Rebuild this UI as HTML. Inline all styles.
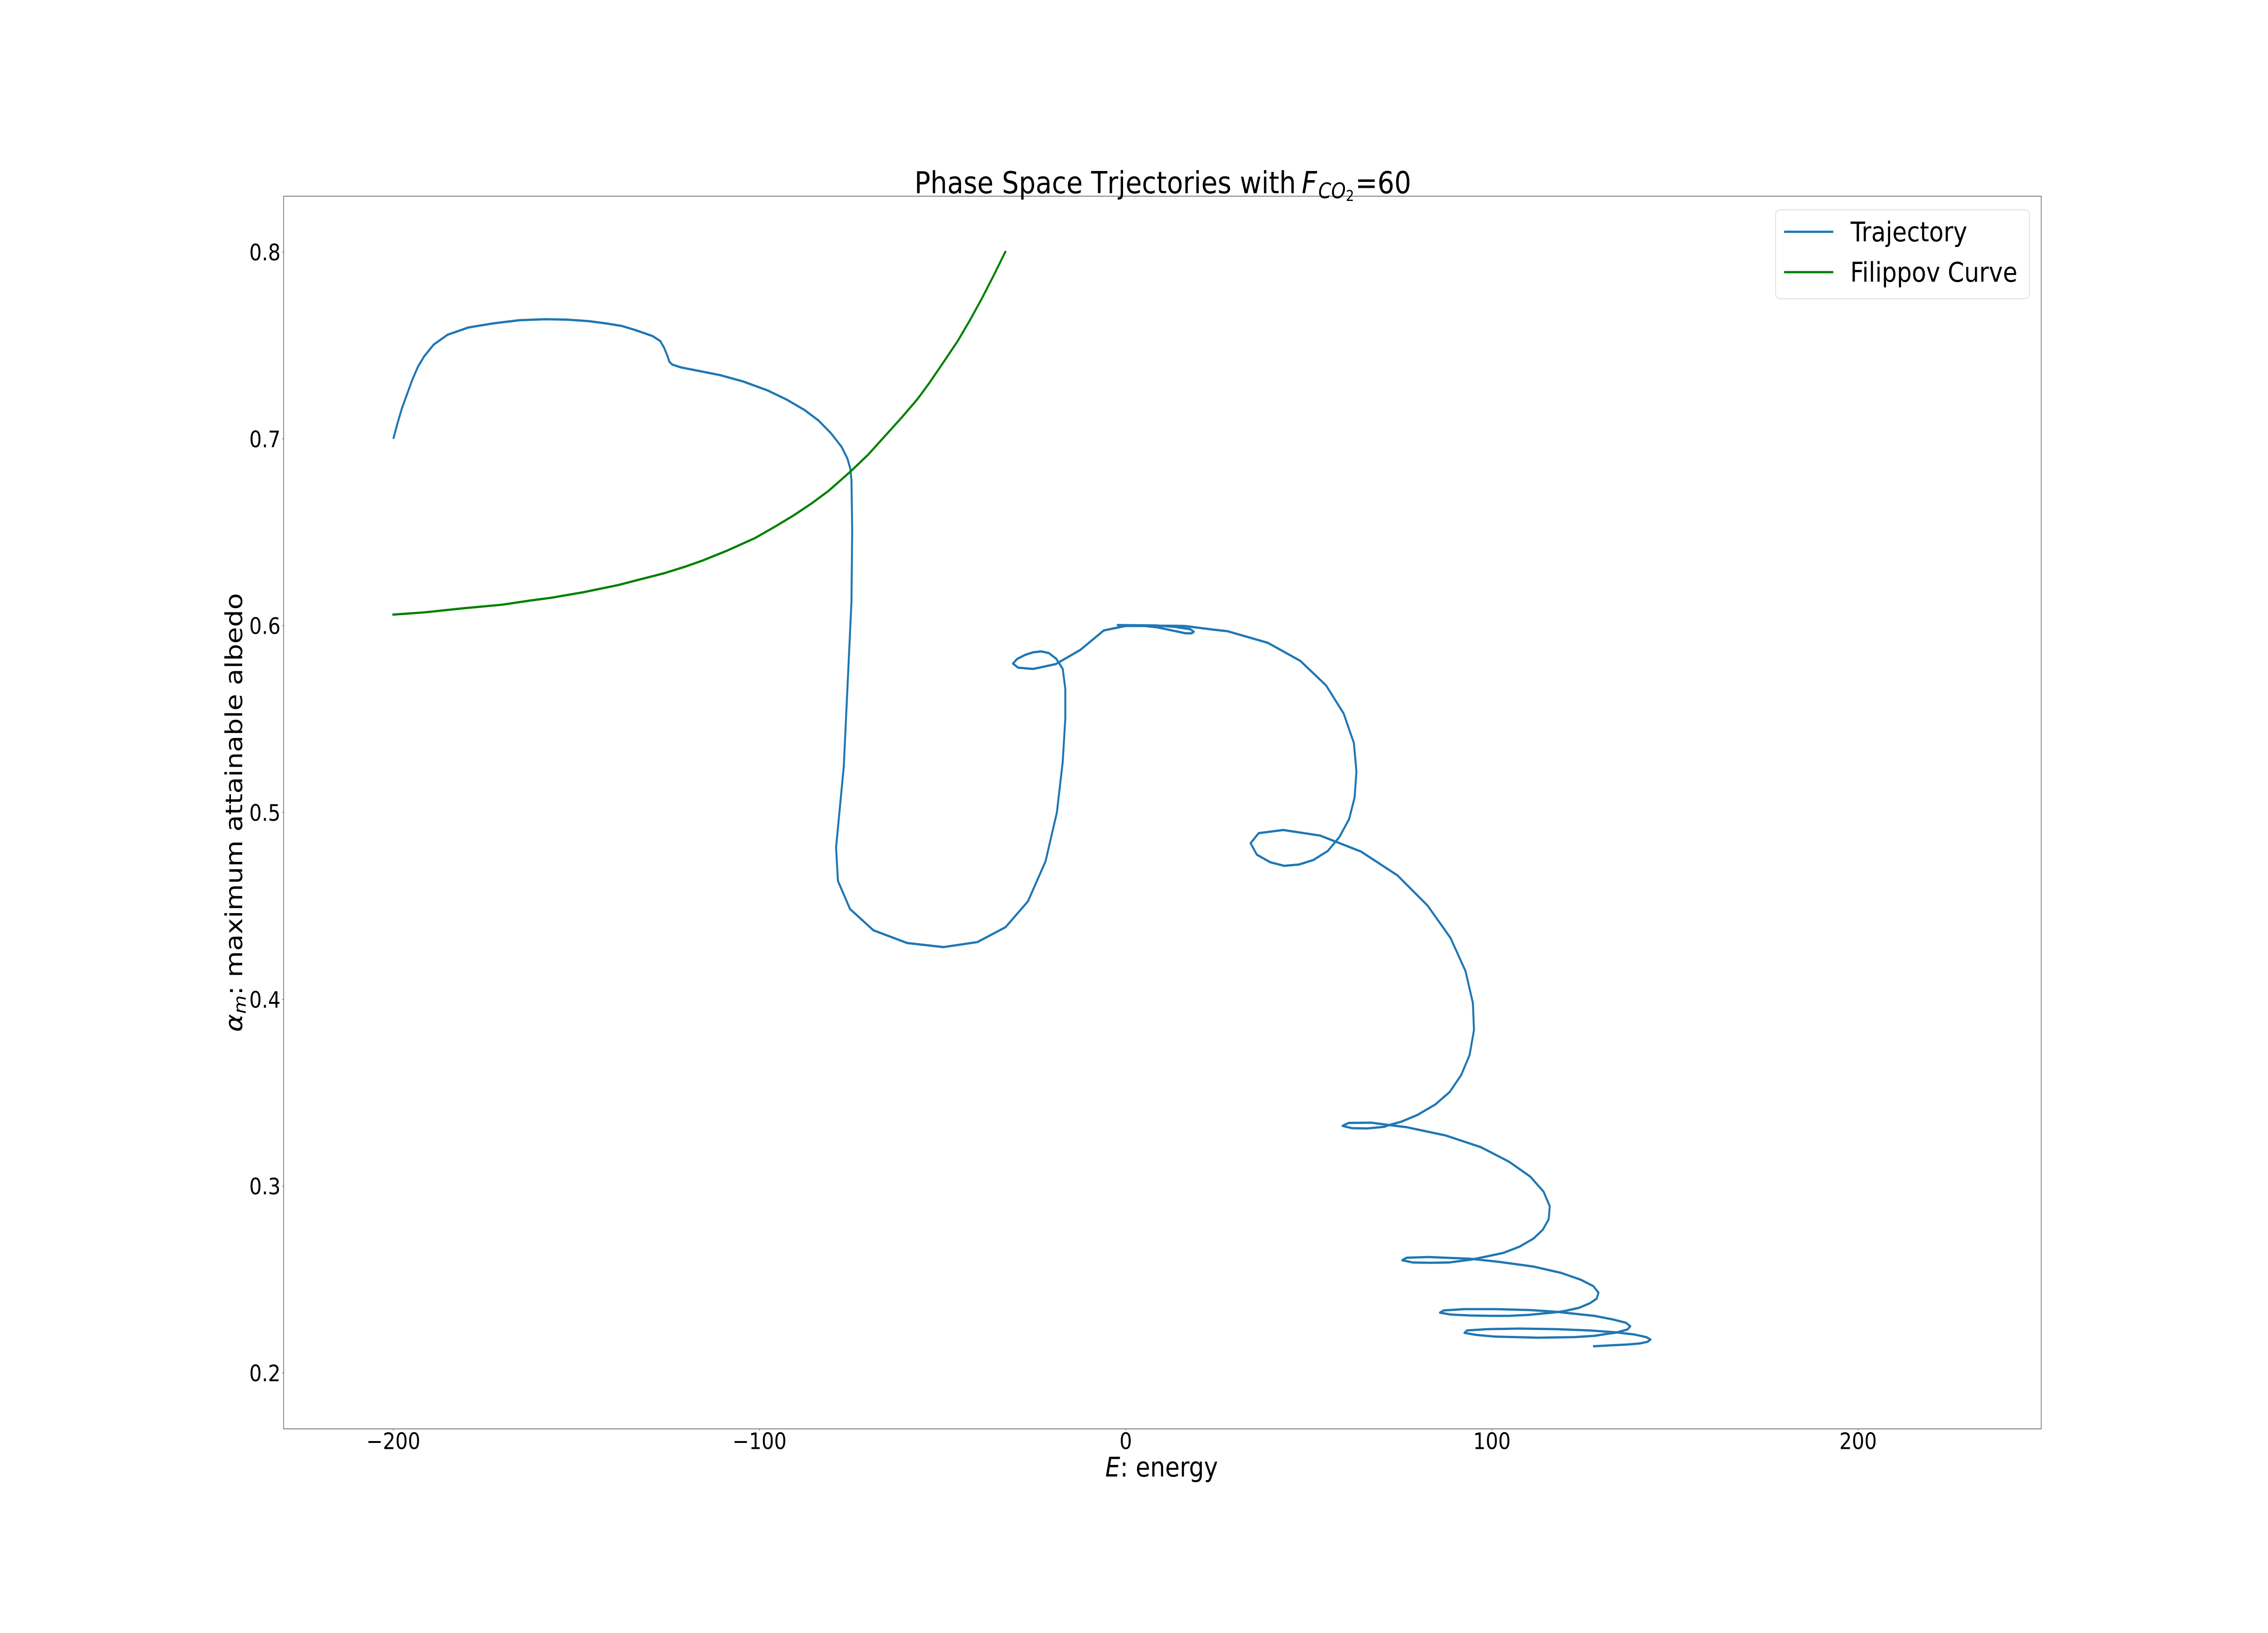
<!DOCTYPE html>
<html lang="en">
<head>
<meta charset="utf-8">
<title>Phase Space Trajectories</title>
<style>
html,body{margin:0;padding:0;background:#fff;width:100%;height:100%;overflow:hidden}
svg{display:block;width:100vw;height:100vh}
text{font-family:"DejaVu Sans","Liberation Sans",sans-serif;fill:#000}
.it{font-style:italic}
.nk{font-kerning:none}
</style>
</head>
<body>
<svg id="chart" xmlns="http://www.w3.org/2000/svg" viewBox="0 0 5760 3600" preserveAspectRatio="none">
  <rect x="0" y="0" width="5760" height="3600" fill="#fff"/>
  <g id="marks"></g>
  <rect x="720.5" y="432.5" width="4463.5" height="2717.5" fill="none" stroke="#3a3a3a" stroke-width="1.3"/>
  <g id="ticks"></g>

  <g>
    <text class="nk" x="2322.4" y="426" font-size="67.3">Phase Space Trjectories with</text>
    <text class="it" x="3306" y="426" font-size="67.3">F</text>
    <text class="it" x="3348" y="437" font-size="47">CO</text>
    <text x="3418" y="443" font-size="33">2</text>
    <text x="3442" y="426" font-size="67.3">=60</text>
  </g>

  <text x="2807" y="3255" font-size="60"><tspan class="it">E</tspan>: energy</text>

  <g transform="translate(615,2272) rotate(-90)">
    <text class="it" x="-3" y="0" font-size="60">α</text>
    <text class="it" x="37" y="9" font-size="42">m</text>
    <text x="78" y="0" font-size="60">: maximum attainable albedo</text>
  </g>

  <g>
    <rect x="4509.5" y="462.5" width="645" height="196" rx="11" ry="11" fill="#fff" fill-opacity="0.8" stroke="#d4d4d4" stroke-width="1.5"/>
    <line x1="4531" x2="4656" y1="511" y2="511" stroke="#1f77b4" stroke-width="5"/>
    <text x="4700" y="532" font-size="60">Trajectory</text>
    <line x1="4531" x2="4656" y1="600" y2="600" stroke="#008000" stroke-width="5"/>
    <text x="4699" y="621" font-size="60">Filippov Curve</text>
  </g>
</svg>
<script>
var xTickValues = [-200, -100, 0, 100, 200];
var xTickLabels = ["\u2212200", "\u2212100", "0", "100", "200"];
var yTickValues = [0.2, 0.3, 0.4, 0.5, 0.6, 0.7, 0.8];
var yTickLabels = ["0.2", "0.3", "0.4", "0.5", "0.6", "0.7", "0.8"];

var trajectoryEnergy = [
-200,-198.9,-197.7,-196.2,-194.8,-193.3,-191.6,-189.0,-185.2,-179.5,-172.7,-165.5,-158.5,-152.6,-146.8,-142.0,-137.6,-133.9,-129.2,-127.1,
-126.1,-125.2,-124.6,-123.8,-121.4,-110.8,-104.5,-97.8,-92.6,-87.7,-83.9,-80.5,-77.6,-76.0,-75.2,-74.9,-74.7,-74.9,-77.0,-79.1,
-78.6,-75.3,-68.9,-59.7,-49.8,-40.5,-32.8,-26.7,-21.9,-18.8,-17.2,-16.5,-16.5,-17.2,-18.3,-19.0,-21.0,-23.1,-25.3,-27.5,
-29.7,-30.8,-29.4,-25.3,-19.1,-12.4,-6.0,-0.1,5.2,8.6,13.9,16.3,18.0,18.6,17.6,13.4,8.2,-2.2,6.7,16.1,
23.7,27.8,38.8,47.7,54.7,59.5,62.3,63.0,62.5,61.0,58.3,55.2,51.2,47.3,43.3,39.5,35.8,34.1,36.3,43.0,
53.1,64.2,74.2,82.4,88.7,92.8,94.8,95.1,93.9,91.6,88.5,84.5,79.7,75.2,71.7,70.6,65.9,61.7,59.2,60.9,
67.1,71.7,76.7,87.3,97.0,104.7,110.5,114.1,115.8,115.5,113.9,111.3,107.6,103.1,98.6,94.3,88.4,83.1,78.3,75.5,
76.7,82.6,94.0,102.0,111.3,118.9,124.2,127.7,129.1,128.6,126.8,123.8,119.9,117.4,110.0,104.5,99.6,94.0,88.8,85.8,
86.8,92.5,101.4,110.6,117.4,128.0,133.2,136.6,137.8,137.0,133.8,131.9,128.0,122.4,112.5,106.9,100.8,95.7,92.5,93.2,
98.9,107.5,117.4,126.7,133.8,139.0,142.2,143.3,142.5,140.3,137.2,132.3,127.6
];
var trajectoryAlbedo = [
.7,.7081,.7161,.7242,.7317,.7385,.7441,.7504,.7557,.7596,.7618,.7635,.7640,.7638,.7630,.7618,.7604,.7582,.7550,.7523,
.7489,.7446,.7412,.7397,.7382,.7341,.7307,.7259,.7210,.7154,.7098,.7030,.6957,.6894,.6839,.6778,.6511,.6127,.5245,.4813,
.4634,.4483,.4369,.4301,.4279,.4306,.4386,.4524,.4738,.5000,.5272,.5503,.5661,.5768,.5802,.5823,.5853,.5862,.5857,.5843,
.5821,.5797,.5775,.5768,.5794,.5870,.5974,.5998,.5998,.5991,.5969,.5959,.5959,.5967,.5981,.5993,.6001,.6003,.6001,.5998,
.5979,.5970,.5908,.5811,.5680,.5530,.5372,.5219,.5080,.4964,.4867,.4794,.4745,.4721,.4714,.4733,.4774,.4835,.4889,.4906,
.4876,.4791,.4663,.4502,.4328,.4150,.3980,.3835,.3701,.3594,.3504,.3436,.3381,.3344,.3325,.3317,.3308,.3310,.3322,.3338,
.3339,.3327,.3315,.3271,.3208,.3130,.3050,.2970,.2892,.2822,.2766,.2718,.2676,.2642,.2623,.2606,.2591,.2589,.2591,.2603,
.2616,.2620,.2611,.2594,.2569,.2535,.2499,.2464,.2429,.2397,.2373,.2348,.2331,.2324,.2310,.2305,.2305,.2307,.2312,.2322,
.2334,.2341,.2341,.2336,.2327,.2305,.2285,.2268,.2249,.2232,.2215,.2210,.2198,.2191,.2188,.2191,.2194,.2203,.2214,.2227,
.2234,.2237,.2234,.2227,.2217,.2205,.2191,.2178,.2166,.2157,.2152,.2147,.2142
];

var filippovEnergy = [
-200,-191.4,-181.8,-170.3,-162.7,-156.9,-148.3,-138.6,-131.9,-126.1,-120.4,-115.6,-108.9,-101.2,-95.5,-90.6,-85.8,-81.1,-75.1,-70.4,-65.7,-61.0,-56.9,-53.7,-49.7,-45.9,-42.6,-39.4,-36.1,-32.9
];
var filippovAlbedo = [
.6059,.6071,.6091,.6112,.6134,.6149,.6178,.6217,.6251,.6280,.6315,.6348,.6401,.6469,.6533,.6591,.6654,.6722,.6826,.6914,.7016,.7118,.7212,.7297,.7412,.7523,.7633,.7747,.7873,.8
];

var plotLeft = 720, plotRight = 5184, plotTop = 432, plotBottom = 3150;
var xMin = -230, xMax = 250, yMin = 0.17, yMax = 0.83;
var SVG_NS = "http://www.w3.org/2000/svg";

function xScale(v) { return plotLeft + (v - xMin) / (xMax - xMin) * (plotRight - plotLeft); }
function yScale(v) { return plotBottom - (v - yMin) / (yMax - yMin) * (plotBottom - plotTop); }
function svgEl(tag, attrs) {
  var el = document.createElementNS(SVG_NS, tag);
  for (var k in attrs) el.setAttribute(k, attrs[k]);
  return el;
}
function pathFrom(xs, ys) {
  var d = "";
  for (var i = 0; i < xs.length; i++) {
    d += (i ? "L" : "M") + xScale(xs[i]).toFixed(2) + " " + yScale(ys[i]).toFixed(2);
  }
  return d;
}

var marks = document.getElementById("marks");
var ticks = document.getElementById("ticks");

var trajectoryLine = svgEl("path", {d: pathFrom(trajectoryEnergy, trajectoryAlbedo), fill: "none", stroke: "#1f77b4", "stroke-width": 5, "stroke-linejoin": "round", "stroke-linecap": "butt"});


marks.appendChild(trajectoryLine);

var filippovLine = svgEl("path", {d: pathFrom(filippovEnergy, filippovAlbedo), fill: "none", stroke: "#008000", "stroke-width": 5, "stroke-linejoin": "round", "stroke-linecap": "square"});


marks.appendChild(filippovLine);

xTickValues.forEach(function (v, i) {
  var px = xScale(v);
  var mark = svgEl("line", {x1: px, x2: px, y1: plotBottom, y2: plotBottom + 3.5, stroke: "#333", "stroke-width": 1});
  
  
  ticks.appendChild(mark);
  var label = svgEl("text", {x: px, y: 3194.5, "font-size": 50, "text-anchor": "middle"});
  label.textContent = xTickLabels[i];
  
  
  ticks.appendChild(label);
});

yTickValues.forEach(function (v, i) {
  var py = yScale(v);
  var mark = svgEl("line", {x1: plotLeft - 3.5, x2: plotLeft, y1: py, y2: py, stroke: "#333", "stroke-width": 1});
  
  
  ticks.appendChild(mark);
  var label = svgEl("text", {x: 712.5, y: py + 18.5, "font-size": 50, "text-anchor": "end"});
  label.textContent = yTickLabels[i];
  
  
  ticks.appendChild(label);
});
</script>
</body>
</html>
